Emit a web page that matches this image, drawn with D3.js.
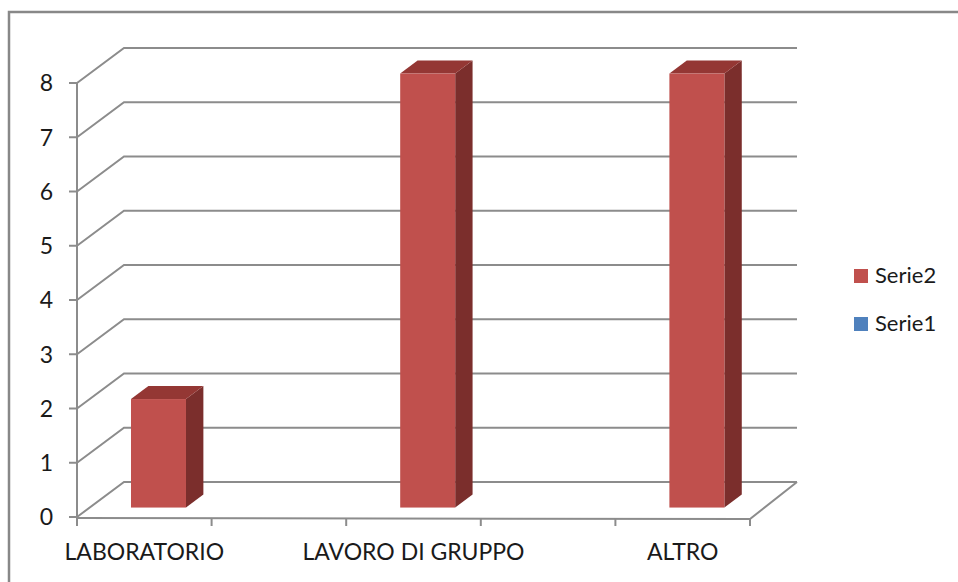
<!DOCTYPE html>
<html>
<head>
<meta charset="utf-8">
<script src="https://cdn.jsdelivr.net/npm/d3@7"></script>
<style>
  body { margin: 0; background: #fff; }
  svg { display: block; font-family: Lato, "Open Sans", sans-serif; }
</style>
</head>
<body>
<div id="chart"></div>
<script>
// categories (2nd and 4th have no label and no bar)
var categories = ["LABORATORIO", "", "LAVORO DI GRUPPO", "", "ALTRO"];
var serie2 = [2, null, 8, null, 8];
var serie1 = [null, null, null, null, null];
var yTicks = [0, 1, 2, 3, 4, 5, 6, 7, 8];
var legendNames = ["Serie2", "Serie1"];
var legendColors = ["#C0504D", "#4F81BD"];

var width = 958, height = 582;
var svg = d3.select("#chart").append("svg")
  .attr("width", width).attr("height", height);

// outer frame (top + left edges visible)
svg.append("path")
  .attr("d", "M9,600 L9,12 L970,12")
  .attr("fill", "none").attr("stroke", "#888").attr("stroke-width", 2.5);

// 3d geometry
var depth = { dx: 47, dy: -35 };
var x0 = 77, x1 = 750;
var x = d3.scaleBand().domain(d3.range(categories.length)).range([x0, x1]);
var y = d3.scaleLinear().domain([0, 8]).range([517, 83]);

var grid = svg.append("g")
  .attr("fill", "none").attr("stroke", "#8c8c8c").attr("stroke-width", 2);

// back wall gridlines: diagonal on side wall + horizontal on back wall
grid.selectAll("path.gl").data(yTicks).enter().append("path")
  .attr("class", "gl")
  .attr("d", function(d) {
    var yy = y(d);
    return "M" + x0 + "," + yy + " L" + (x0 + depth.dx) + "," + (yy + depth.dy) +
      " L" + (x1 + depth.dx) + "," + (yy + depth.dy);
  });

// floor: front edge and right edge
grid.append("path")
  .attr("d", "M" + x0 + "," + (y(0) + 1) + " L" + x1 + "," + (y(0) + 2) +
    " L" + (x1 + depth.dx) + "," + (y(0) + depth.dy));

// y axis line and ticks
grid.append("line").attr("x1", x0).attr("x2", x0).attr("y1", y(8)).attr("y2", y(0) + 1);
grid.selectAll("line.yt").data(yTicks).enter().append("line")
  .attr("class", "yt")
  .attr("x1", x0 - 8).attr("x2", x0)
  .attr("y1", function(d) { return y(d); }).attr("y2", function(d) { return y(d); });

// x ticks
var xTickPos = d3.range(categories.length + 1).map(function(i) {
  return x0 + i * x.bandwidth();
});
grid.selectAll("line.xt").data(xTickPos).enter().append("line")
  .attr("class", "xt")
  .attr("x1", function(d) { return d; }).attr("x2", function(d) { return d; })
  .attr("y1", y(0) + 1).attr("y2", y(0) + 9);

// y labels
svg.selectAll("text.yl").data(yTicks).enter().append("text")
  .attr("class", "yl")
  .attr("x", 53).attr("y", function(d) { return y(d); })
  .attr("dy", "0.36em")
  .attr("text-anchor", "end")
  .attr("font-size", 23).attr("fill", "#1a1a1a")
  .text(function(d) { return d; });

// x labels
svg.selectAll("text.xl").data(categories).enter().append("text")
  .attr("class", "xl")
  .attr("x", function(d, i) { return x(i) + x.bandwidth() / 2; })
  .attr("y", 560)
  .attr("text-anchor", "middle")
  .attr("font-size", 23).attr("fill", "#1a1a1a")
  .text(function(d) { return d; });

// bars (serie2), drawn at partial depth
var f0 = 0.27, f1 = 0.64;
var barW = 55;
var bars = svg.append("g");
serie2.forEach(function(v, i) {
  if (v == null) return;
  var cx = x(i) + x.bandwidth() / 2 + 1.5;
  var fx = cx - barW / 2 + f0 * depth.dx;
  var fyB = y(0) + f0 * depth.dy;
  var fyT = y(v) + f0 * depth.dy;
  var ddx = (f1 - f0) * depth.dx, ddy = (f1 - f0) * depth.dy;
  // side face
  bars.append("path")
    .attr("d", "M" + (fx + barW) + "," + fyT + " L" + (fx + barW + ddx) + "," + (fyT + ddy) +
      " L" + (fx + barW + ddx) + "," + (fyB + ddy) + " L" + (fx + barW) + "," + fyB + "Z")
    .attr("fill", "#7B2E2C");
  // top face
  bars.append("path")
    .attr("d", "M" + fx + "," + fyT + " L" + (fx + ddx) + "," + (fyT + ddy) +
      " L" + (fx + barW + ddx) + "," + (fyT + ddy) + " L" + (fx + barW) + "," + fyT + "Z")
    .attr("fill", "#943734");
  // front face
  bars.append("rect")
    .attr("x", fx).attr("y", fyT).attr("width", barW).attr("height", fyB - fyT)
    .attr("fill", "#C0504D");
});

// legend
var leg = svg.selectAll("g.leg").data(legendNames).enter().append("g")
  .attr("class", "leg")
  .attr("transform", function(d, i) { return "translate(854," + (269 + i * 48) + ")"; });
leg.append("rect").attr("width", 14).attr("height", 14)
  .attr("fill", function(d, i) { return legendColors[i]; });
leg.append("text").attr("x", 21).attr("y", 14)
  .attr("font-size", 22).attr("fill", "#1a1a1a")
  .text(function(d) { return d; });
</script>
</body>
</html>
